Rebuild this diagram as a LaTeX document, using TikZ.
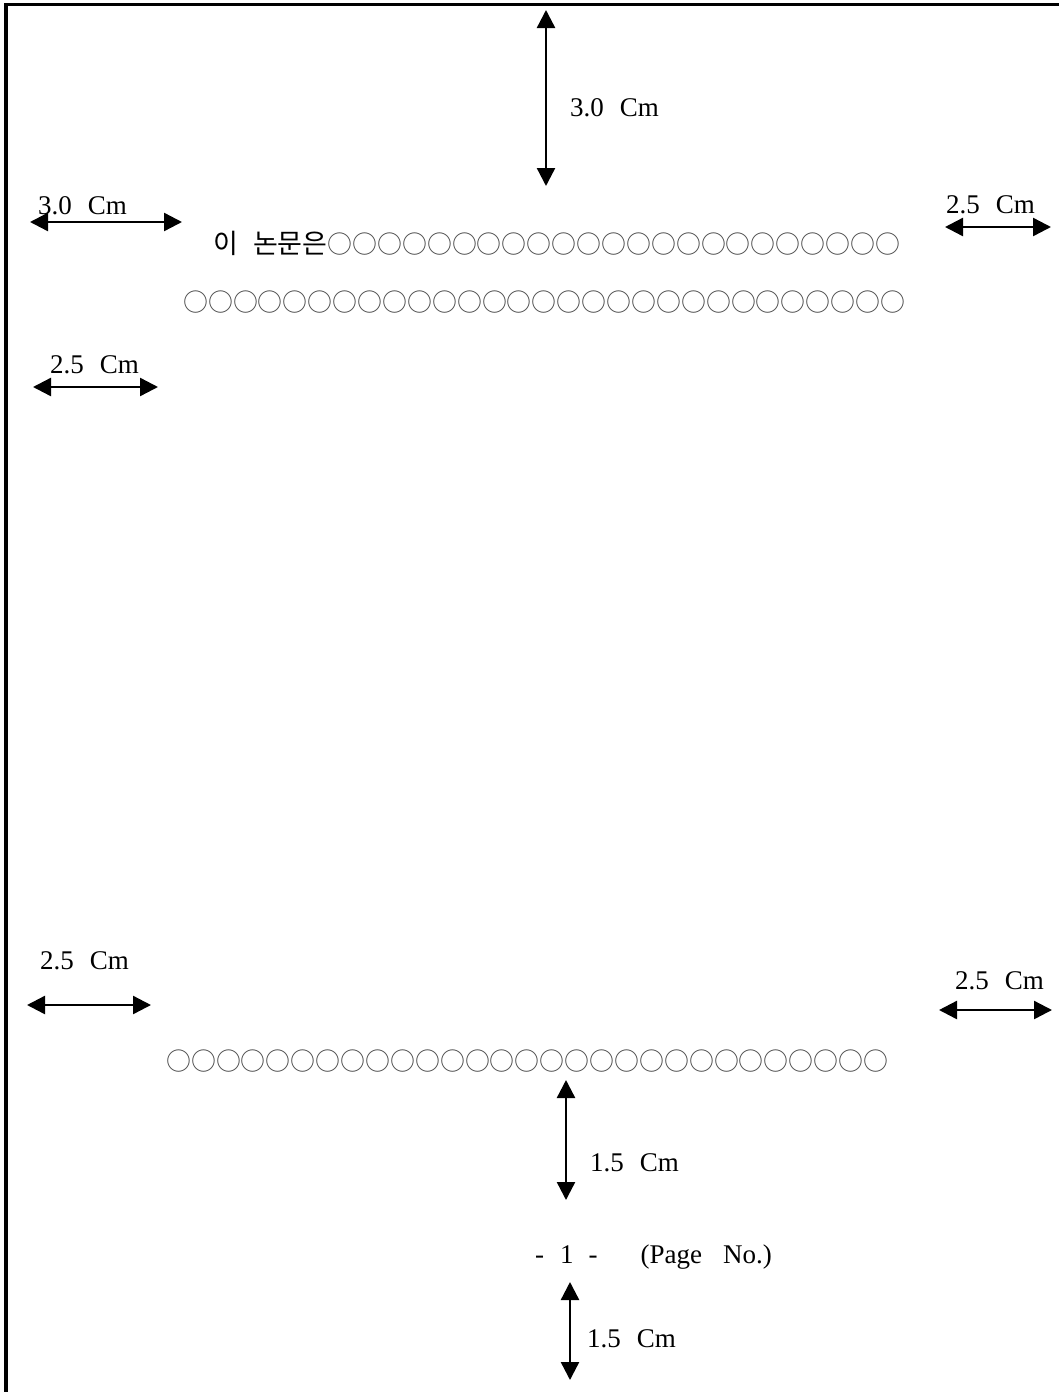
\documentclass[tikz,border=0pt]{standalone}
\usepackage{fontspec}
\setmainfont{Liberation Serif}
\newfontfamily\krfont{Noto Sans CJK KR}
\usetikzlibrary{arrows.meta}
\newcommand\wgap{\hspace{16pt}}
\newcommand\circs[1]{{\color{black!70}\foreach \i in {1,...,#1}{○}}}
\newcommand\hangul[1]{{\fontsize{27}{30}\selectfont #1}}
\tikzset{
  framestroke/.style={line width=3.5pt, line cap=rect},
  dimarrow/.style={line width=2.4pt, {Triangle[length=18pt,width=18pt]}-{Triangle[length=18pt,width=18pt]}},
  dimlabel/.style={font=\fontsize{27}{32}\selectfont, inner sep=0pt, anchor=base west},
  bodytext/.style={font=\krfont\fontsize{24.9}{30}\selectfont, inner sep=0pt, anchor=base west},
}
\begin{document}
\begin{tikzpicture}[x=1pt,y=-1pt]
\useasboundingbox (0,0) rectangle (1059,1392);
\fill[white] (0,0) rectangle (1059,1392);
% frame
\coordinate (fbl) at (6,1395);
\coordinate (ftl) at (6,4.5);
\coordinate (ftr) at (1062,4.5);
\draw[framestroke] (fbl) -- (ftl) -- (ftr);
% top margin arrow
\coordinate (t1) at (546,10);
\coordinate (t2) at (546,186);
\draw[dimarrow] (t1) -- (t2);
\node[dimlabel] (lt) at (570,116) {3.0\wgap Cm};
% left margin 3.0
\coordinate (l1a) at (30,222);
\coordinate (l1b) at (182,222);
\draw[dimarrow] (l1a) -- (l1b);
\node[dimlabel] (ll1) at (38,214) {3.0\wgap Cm};
% right margin top
\coordinate (r1a) at (945,227);
\coordinate (r1b) at (1051,227);
\draw[dimarrow] (r1a) -- (r1b);
\node[dimlabel] (lr1) at (946,213) {2.5\wgap Cm};
% text lines
\node[bodytext] (row1) at (213,253) {\hangul{이\hspace{15pt}논문은}\circs{23}};
\node[bodytext] (row2) at (183,311) {\circs{29}};
% left margin 2.5
\coordinate (l2a) at (33,387);
\coordinate (l2b) at (158,387);
\draw[dimarrow] (l2a) -- (l2b);
\node[dimlabel] (ll2) at (50,373) {2.5\wgap Cm};
% bottom left
\coordinate (l3a) at (27,1005);
\coordinate (l3b) at (151,1005);
\draw[dimarrow] (l3a) -- (l3b);
\node[dimlabel] (ll3) at (40,969) {2.5\wgap Cm};
% bottom right
\coordinate (r2a) at (939,1010);
\coordinate (r2b) at (1052,1010);
\draw[dimarrow] (r2a) -- (r2b);
\node[dimlabel] (lr2) at (955,989) {2.5\wgap Cm};
% bottom text
\node[bodytext] (row3) at (166,1070) {\circs{29}};
% bottom margin arrows
\coordinate (b1a) at (566,1080);
\coordinate (b1b) at (566,1200);
\draw[dimarrow] (b1a) -- (b1b);
\node[dimlabel] (lb1) at (590,1171) {1.5\wgap Cm};
\node[dimlabel] (pg) at (535,1263) {-\hspace{16pt}1\hspace{15pt}-\hspace{43pt}(Page\hspace{21pt}No.)};
\coordinate (b2a) at (570,1282);
\coordinate (b2b) at (570,1380);
\draw[dimarrow] (b2a) -- (b2b);
\node[dimlabel] (lb2) at (587,1347) {1.5\wgap Cm};
\end{tikzpicture}
\end{document}
